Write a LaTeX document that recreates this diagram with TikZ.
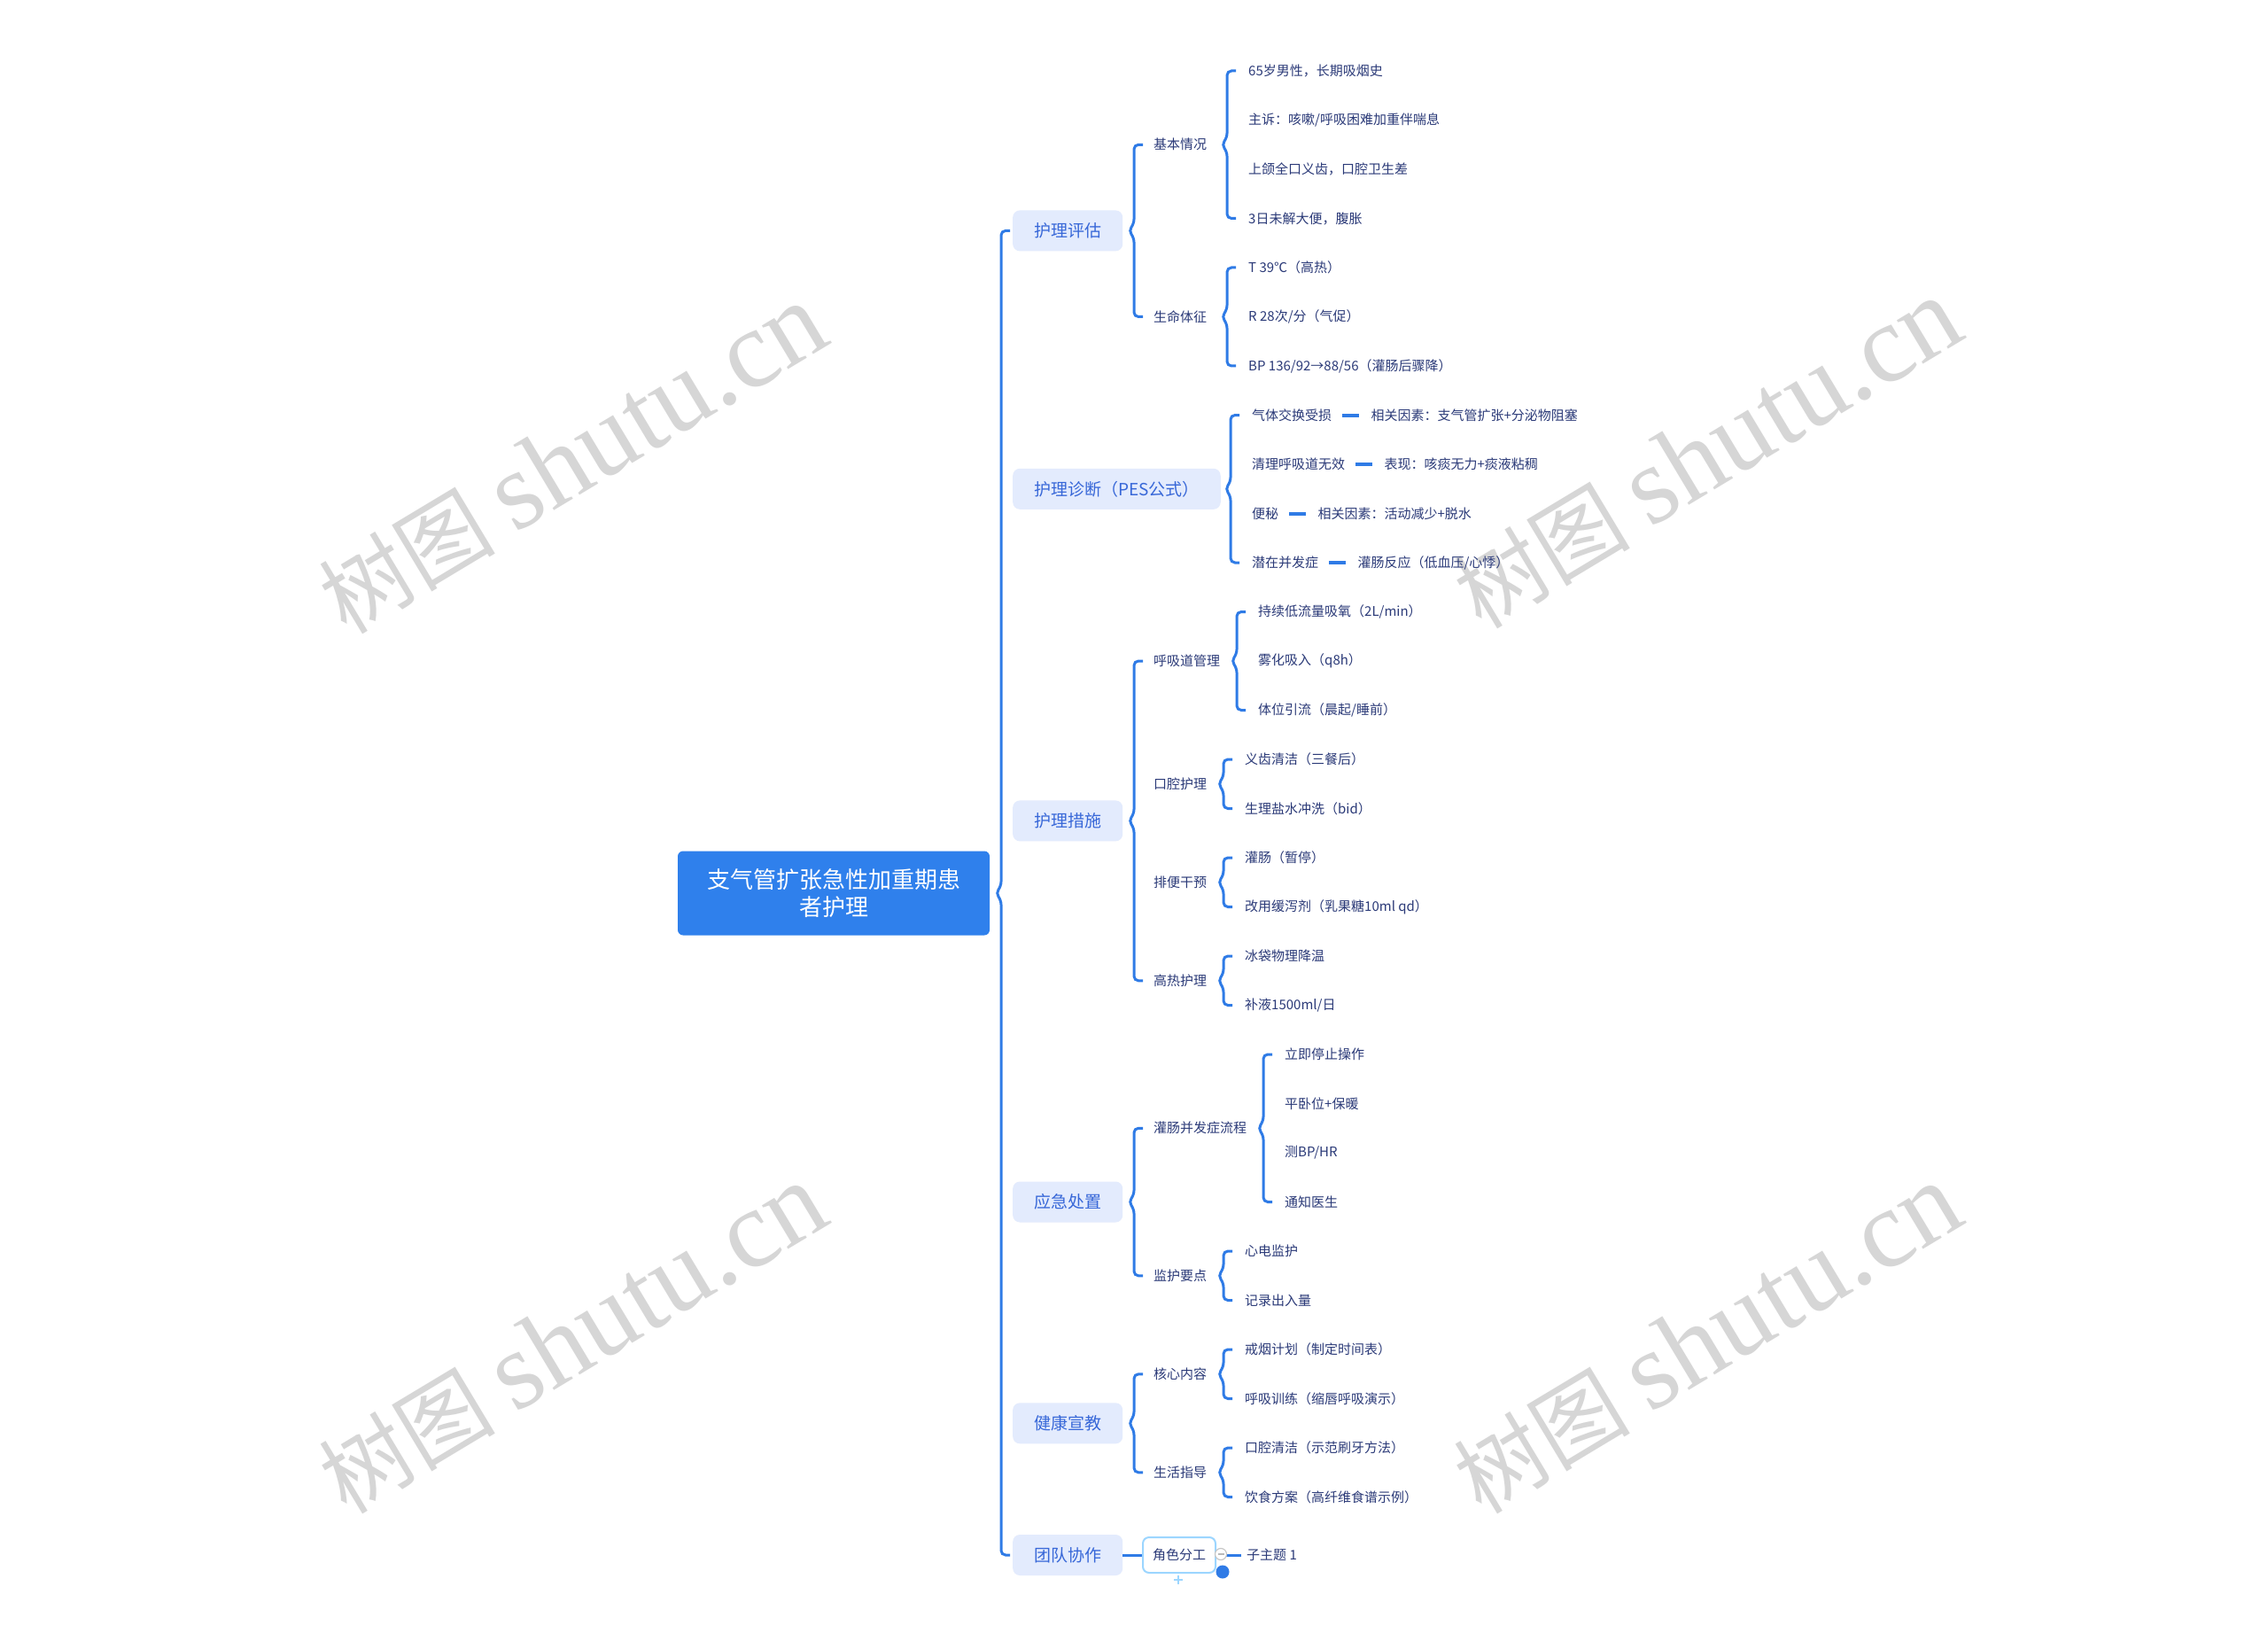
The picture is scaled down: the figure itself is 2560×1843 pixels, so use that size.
\documentclass[tikz,border=0pt]{standalone}
\usepackage{fontspec}
\setmainfont{Noto Sans CJK SC}
\newfontfamily\wmlatin{Liberation Serif}
\usepackage{tikz}
\usetikzlibrary{positioning,calc}
\usepackage{xcolor}
\definecolor{linkblue}{HTML}{2F7BE6}
\definecolor{rootblue}{HTML}{2F80EC}
\definecolor{topicfill}{HTML}{E3EBFD}
\definecolor{topictext}{HTML}{3767D8}
\definecolor{leaftext}{HTML}{2B3A78}
\definecolor{wmgray}{HTML}{D6D6D6}
\definecolor{selborder}{HTML}{9CD6FF}
\newcommand{\brc}[4]{\draw[link] let \p1=(#1.east),\p2=(#2.west),\p3=(#3.west) in (\x2-#4+10,\y2) -- (\x2-#4,\y2) -- (\x2-#4,\y1+8) -- (\x2-#4-6,\y1) -- (\x2-#4,\y1-8) -- (\x2-#4,\y3) -- (\x2-#4+10,\y3);}
\newcommand{\wmtext}{{\fontsize{100}{100}\selectfont 树图}\hspace{22pt}{\wmlatin\fontsize{125}{125}\selectfont shutu.cn}}

\begin{document}
\begin{tikzpicture}[x=1pt,y=1pt,
  link/.style={draw=linkblue,line width=3pt,rounded corners=5pt},
  dashlink/.style={draw=linkblue,line width=4pt,shorten <=6pt,shorten >=7pt},
  rootbox/.style={fill=rootblue,rounded corners=6pt,text=white,font=\fontsize{26}{31}\selectfont,align=center,minimum width=352pt,minimum height=95pt},
  topic/.style={fill=topicfill,rounded corners=8pt,text=topictext,font=\fontsize{19}{22}\selectfont,inner xsep=24pt,minimum height=46pt,anchor=west},
  sub/.style={text=leaftext,font=\fontsize{15}{18}\selectfont,inner xsep=2pt,anchor=west},
  leaf/.style={text=leaftext,font=\fontsize{15}{18}\selectfont,inner xsep=6pt,anchor=west},
  selbox/.style={draw=selborder,line width=2pt,fill=white,rounded corners=7pt,text=leaftext,font=\fontsize{15}{18}\selectfont,inner xsep=11pt,minimum height=40pt,anchor=west},
  wm/.style={text=wmgray,rotate=31}]
\fill[white] (0,0) rectangle (2560,-1843);
\useasboundingbox (0,0) rectangle (2560,-1843);

\node[wm] (wm1) at (646,-518) {\wmtext};
\node[wm] (wm2) at (1927,-512) {\wmtext};
\node[wm] (wm3) at (646,-1511) {\wmtext};
\node[wm] (wm4) at (1927,-1511) {\wmtext};

\node[rootbox] (root) at (941,-1008) {支气管扩张急性加重期患\\者护理};

\node[topic] (pg) at (1143,-260.4) {护理评估};
\node[topic] (zd) at (1143,-551.8) {护理诊断（PES公式）};
\node[topic] (cs) at (1143,-926.4) {护理措施};
\node[topic] (yj) at (1143,-1356.5) {应急处置};
\node[topic] (xj) at (1143,-1606.3) {健康宣教};
\node[topic] (td) at (1143,-1755) {团队协作};

\node[sub] (jb) at (1300,-163.3) {基本情况};
\node[sub] (sm) at (1300,-357.5) {生命体征};
\node[sub] (hx) at (1300,-746) {呼吸道管理};
\node[sub] (kq) at (1300,-884.8) {口腔护理};
\node[sub] (pb) at (1300,-995.8) {排便干预};
\node[sub] (gr) at (1300,-1106.8) {高热护理};
\node[sub] (gc) at (1300,-1273.3) {灌肠并发症流程};
\node[sub] (jh) at (1300,-1439.8) {监护要点};
\node[sub] (hn) at (1300,-1550.8) {核心内容};
\node[sub] (sh) at (1300,-1661.8) {生活指导};
\node[selbox] (js) at (1289,-1755) {角色分工};

\node[leaf] (jb1) at (1403,-80) {65岁男性，长期吸烟史};
\node[leaf] (jb2) at (1403,-135.5) {主诉：咳嗽/呼吸困难加重伴喘息};
\node[leaf] (jb3) at (1403,-191) {上颌全口义齿，口腔卫生差};
\node[leaf] (jb4) at (1403,-246.5) {3日未解大便，腹胀};
\node[leaf] (sm1) at (1403,-302) {T 39℃（高热）};
\node[leaf] (sm2) at (1403,-357.5) {R 28次/分（气促）};
\node[leaf] (sm3) at (1403,-413) {BP 136/92→88/56（灌肠后骤降）};

\node[leaf] (zd1) at (1407,-468.5) {气体交换受损};
\node[leaf] (zd2) at (1407,-524) {清理呼吸道无效};
\node[leaf] (zd3) at (1407,-579.5) {便秘};
\node[leaf] (zd4) at (1407,-635) {潜在并发症};
\node[leaf,right=32pt of zd1] (zd1r) {相关因素：支气管扩张+分泌物阻塞};
\node[leaf,right=32pt of zd2] (zd2r) {表现：咳痰无力+痰液粘稠};
\node[leaf,right=32pt of zd3] (zd3r) {相关因素：活动减少+脱水};
\node[leaf,right=32pt of zd4] (zd4r) {灌肠反应（低血压/心悸）};

\node[leaf] (hx1) at (1414,-690.5) {持续低流量吸氧（2L/min）};
\node[leaf] (hx2) at (1414,-746) {雾化吸入（q8h）};
\node[leaf] (hx3) at (1414,-801.5) {体位引流（晨起/睡前）};
\node[leaf] (kq1) at (1399,-857) {义齿清洁（三餐后）};
\node[leaf] (kq2) at (1399,-912.5) {生理盐水冲洗（bid）};
\node[leaf] (pb1) at (1399,-968) {灌肠（暂停）};
\node[leaf] (pb2) at (1399,-1023.5) {改用缓泻剂（乳果糖10ml qd）};
\node[leaf] (gr1) at (1399,-1079) {冰袋物理降温};
\node[leaf] (gr2) at (1399,-1134.5) {补液1500ml/日};

\node[leaf] (gc1) at (1444,-1190) {立即停止操作};
\node[leaf] (gc2) at (1444,-1245.5) {平卧位+保暖};
\node[leaf] (gc3) at (1444,-1301) {测BP/HR};
\node[leaf] (gc4) at (1444,-1356.5) {通知医生};
\node[leaf] (jh1) at (1399,-1412) {心电监护};
\node[leaf] (jh2) at (1399,-1467.5) {记录出入量};

\node[leaf] (hn1) at (1399,-1523) {戒烟计划（制定时间表）};
\node[leaf] (hn2) at (1399,-1578.5) {呼吸训练（缩唇呼吸演示）};
\node[leaf] (sh1) at (1399,-1634) {口腔清洁（示范刷牙方法）};
\node[leaf] (sh2) at (1399,-1689.5) {饮食方案（高纤维食谱示例）};

\node[leaf] (zt) at (1401,-1755) {子主题 1};

\brc{root}{pg}{td}{13}
\brc{pg}{jb}{sm}{20}
\brc{jb}{jb1}{jb4}{18}
\brc{sm}{sm1}{sm3}{18}
\brc{zd}{zd1}{zd4}{18}
\brc{cs}{hx}{gr}{20}
\brc{hx}{hx1}{hx3}{18}
\brc{kq}{kq1}{kq2}{18}
\brc{pb}{pb1}{pb2}{18}
\brc{gr}{gr1}{gr2}{18}
\brc{yj}{gc}{jh}{20}
\brc{gc}{gc1}{gc4}{18}
\brc{jh}{jh1}{jh2}{18}
\brc{xj}{hn}{sh}{20}
\brc{hn}{hn1}{hn2}{18}
\brc{sh}{sh1}{sh2}{18}

\draw[dashlink] (zd1) -- (zd1r);
\draw[dashlink] (zd2) -- (zd2r);
\draw[dashlink] (zd3) -- (zd3r);
\draw[dashlink] (zd4) -- (zd4r);

\draw[link] (td) -- (js);
\draw[link] (js) -- (zt);
\filldraw[fill=white,draw=gray!45,line width=1.2pt] (1378,-1754) circle (6.5);
\draw[gray!55,line width=1.2pt] (1374.5,-1754) -- (1381.5,-1754);
\fill[linkblue] (1380,-1774) circle (7.5);
\draw[selborder,line width=1.2pt] (1325,-1783) -- (1335,-1783) (1330,-1778) -- (1330,-1788);
\end{tikzpicture}
\end{document}
